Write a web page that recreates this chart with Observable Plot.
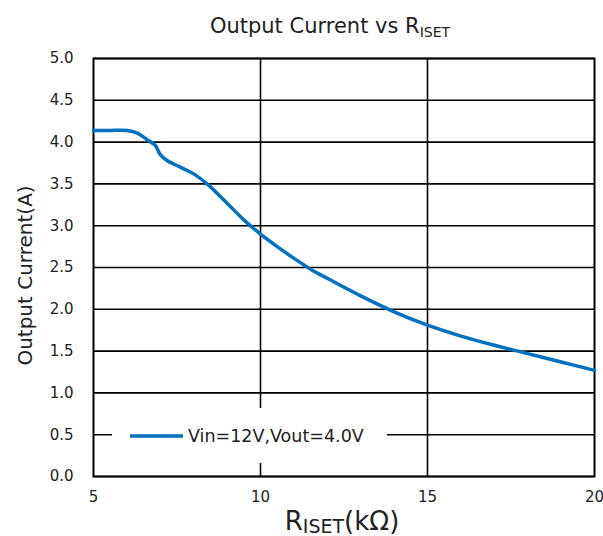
<!DOCTYPE html>
<html>
<head>
<meta charset="utf-8">
<script src="https://cdn.jsdelivr.net/npm/d3@7"></script>
<script src="https://cdn.jsdelivr.net/npm/@observablehq/plot@0.6"></script>
<style>
  html, body { margin: 0; padding: 0; background: #fff; }
  #wrap { position: relative; width: 603px; height: 536px; overflow: hidden; font-family: "DejaVu Sans", Verdana, sans-serif; color: #222; }
  #chart svg { display: block; overflow: visible; }
  #overlay { position: absolute; left: 0; top: 0; pointer-events: none; }
  #legend { position: absolute; left: 112px; top: 408px; width: 275px; height: 55px; background: #fff; display: flex; align-items: center; font-size: 17.5px; color: #222; }
  #legend svg { margin-left: 18px; margin-right: 5px; display: block; }
</style>
</head>
<body>
<div id="wrap">
  <div id="chart"></div>
  <div id="legend"><svg width="53" height="6"><line x1="0" y1="3" x2="53" y2="3" stroke="#0070C0" stroke-width="3.5"/></svg><span id="legtext"></span></div>
  <svg id="overlay" width="603" height="536" font-family="DejaVu Sans, Verdana, sans-serif" fill="#222">
    <text x="330" y="33" text-anchor="middle" font-size="21"><tspan id="titleMain"></tspan><tspan id="titleSub" font-size="14" dy="4"></tspan></text>
    <text x="342" y="530" text-anchor="middle" font-size="26"><tspan id="xMain"></tspan><tspan id="xSub" font-size="19" dy="3"></tspan><tspan id="xUnit" dy="-3"></tspan></text>
  </svg>
</div>
<script>
const titleMain = "Output Current vs R";
const titleSub = "ISET";
const xLabelMain = "R";
const xLabelSub = "ISET";
const xLabelUnit = "(kΩ)";
const yLabel = "Output Current(A)";
const seriesName = "Vin=12V,Vout=4.0V";
const rIset = [5, 5.5, 6, 6.3, 6.6, 6.85, 7.0, 7.2, 7.6, 8.0, 8.4, 9.0, 9.5, 10, 10.5, 11, 11.5, 12, 13, 14, 15, 16, 17, 18, 19, 20];
const current = [4.14, 4.14, 4.14, 4.11, 4.03, 3.96, 3.85, 3.78, 3.70, 3.62, 3.50, 3.27, 3.07, 2.90, 2.75, 2.61, 2.48, 2.37, 2.16, 1.97, 1.81, 1.68, 1.57, 1.47, 1.37, 1.27];
const xTicks = [5, 10, 15, 20];
const yTicks = [0, 0.5, 1, 1.5, 2, 2.5, 3, 3.5, 4, 4.5, 5];

const data = rIset.map((x, i) => ({x, y: current[i]}));
document.getElementById("legtext").textContent = seriesName;
document.getElementById("titleMain").textContent = titleMain;
document.getElementById("titleSub").textContent = titleSub;
document.getElementById("xMain").textContent = xLabelMain;
document.getElementById("xSub").textContent = xLabelSub;
document.getElementById("xUnit").textContent = xLabelUnit;

const chart = Plot.plot({
  width: 603,
  height: 536,
  marginTop: 58,
  marginLeft: 93,
  marginRight: 9,
  marginBottom: 60,
  style: {fontFamily: "DejaVu Sans, Verdana, sans-serif", fontSize: "15px", color: "#222", background: "#fff", overflow: "visible"},
  x: {domain: [5, 20], ticks: xTicks, label: null},
  y: {domain: [0, 5], ticks: yTicks, label: null},
  marks: [
    Plot.ruleY(yTicks, {stroke: "#000", strokeWidth: 1.6}),
    Plot.ruleX(xTicks.slice(1, -1), {stroke: "#000", strokeWidth: 1.6}),
    Plot.frame({stroke: "#000", strokeWidth: 2}),
    Plot.line(data, {x: "x", y: "y", stroke: "#0070C0", strokeWidth: 3.5, curve: "catmull-rom"}),
    Plot.axisX({ticks: xTicks, tickSize: 0, tickPadding: 15, label: null, fontSize: 15, tickFormat: d => String(d)}),
    Plot.axisY({ticks: yTicks, tickSize: 0, tickPadding: 20, label: null, fontSize: 15, tickFormat: d => d.toFixed(1)}),
    Plot.text([yLabel], {frameAnchor: "left", textAnchor: "middle", lineAnchor: "middle", dx: -68, dy: 8, rotate: -90, fontSize: 20, fill: "#222"})
  ]
});
document.getElementById("chart").appendChild(chart);
</script>
</body>
</html>
